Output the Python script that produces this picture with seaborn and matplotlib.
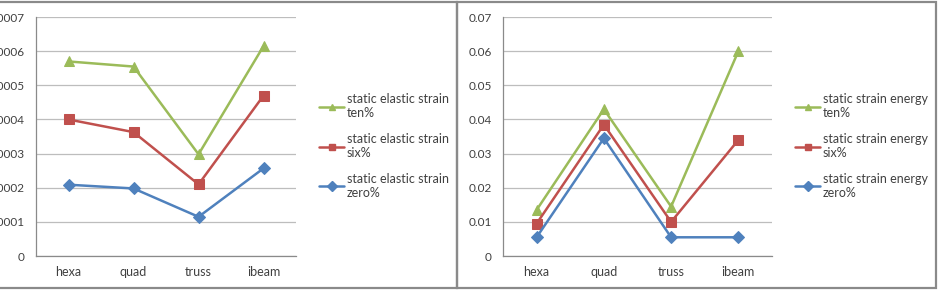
import numpy as np
import pandas as pd
import seaborn as sns
import matplotlib.pyplot as plt
from matplotlib.patches import Rectangle
from matplotlib.lines import Line2D

# categories and series
shapes = ["hexa", "quad", "truss", "ibeam"]

elastic_ten = [0.000570, 0.000555, 0.000298, 0.000615]
elastic_six = [0.000400, 0.000363, 0.000210, 0.000470]
elastic_zero = [0.000209, 0.000198, 0.000115, 0.000257]

energy_ten = [0.0135, 0.0430, 0.0145, 0.0600]
energy_six = [0.0095, 0.0385, 0.0100, 0.0340]
energy_zero = [0.0055, 0.0345, 0.0055, 0.0055]

levels = ["ten%", "six%", "zero%"]
colors = {"ten%": "#9BBB59", "six%": "#C0504D", "zero%": "#4F81BD"}
markers = {"ten%": "^", "six%": "s", "zero%": "D"}
msizes = {"ten%": 7.5, "six%": 7, "zero%": 6}


def make_df(ten, six, zero):
    rows = []
    for lvl, vals in zip(levels, [ten, six, zero]):
        for s, v in zip(shapes, vals):
            rows.append({"shape": s, "value": v, "level": lvl})
    return pd.DataFrame(rows)


sns.set_style("white")
plt.rcParams['font.family'] = ['Lato', 'DejaVu Sans']

my_dpi = 100
fig = plt.figure(figsize=(941 / my_dpi, 294 / my_dpi), dpi=my_dpi)

# panel borders like the spreadsheet chart boxes
fig.patches.append(Rectangle((-0.01, 0.020), 0.4957, 0.973, transform=fig.transFigure,
                             fill=False, edgecolor="#8a8a8a", linewidth=1.6))
fig.patches.append(Rectangle((0.4857, 0.020), 0.5090, 0.973, transform=fig.transFigure,
                             fill=False, edgecolor="#8a8a8a", linewidth=1.6))

panels = [
    ([0.0383, 0.129, 0.2763, 0.813], make_df(elastic_ten, elastic_six, elastic_zero),
     0.0007, 0.0001, "{:.4f}", "static elastic strain", 0.334),
    ([0.5345, 0.129, 0.2859, 0.813], make_df(energy_ten, energy_six, energy_zero),
     0.07, 0.01, "{:.2f}", "static strain energy", 0.840),
]

for rect, df, ymax, step, fmt, name, legx in panels:
    ax = fig.add_axes(rect)
    for lvl in levels:
        sub = df[df["level"] == lvl]
        sns.lineplot(data=sub, x="shape", y="value", ax=ax, color=colors[lvl],
                     marker=markers[lvl], markersize=msizes[lvl], linewidth=1.8,
                     markeredgecolor=colors[lvl], sort=False, zorder=3)
    ax.set_xlim(-0.5, 3.5)
    ax.set_ylim(0, ymax)
    yt = np.arange(0, ymax + step / 2, step)
    ax.set_yticks(yt)
    ax.set_yticklabels(["0"] + [fmt.format(t) for t in yt[1:]])
    ax.set_xticks(range(4))
    ax.set_xticklabels(shapes)
    ax.set_xticks(np.arange(-0.5, 4, 1), minor=True)
    ax.tick_params(axis="x", which="major", length=0, pad=7, labelsize=9, labelcolor="#404040")
    ax.tick_params(axis="x", which="minor", length=4, color="#8a8a8a", direction="out")
    ax.tick_params(axis="y", length=4, color="#8a8a8a", direction="out", pad=4,
                   labelsize=8.5, labelcolor="#404040")
    ax.grid(axis="y", color="#bdbdbd", linewidth=0.9)
    ax.set_axisbelow(True)
    ax.set_xlabel("")
    ax.set_ylabel("")
    for side in ["top", "right"]:
        ax.spines[side].set_visible(False)
    for side in ["left", "bottom"]:
        ax.spines[side].set_color("#8a8a8a")
        ax.spines[side].set_linewidth(0.9)
    if ax.get_legend() is not None:
        ax.get_legend().remove()

    handles = [Line2D([0], [0], color=colors[l], marker=markers[l], markersize=5,
                      linewidth=1.8) for l in levels]
    labels = [name + "\n" + l for l in levels]
    fig.legend(handles, labels, loc="upper left", bbox_to_anchor=(legx, 0.70),
               frameon=False, fontsize=9, handlelength=2.0, handletextpad=0.2,
               labelspacing=1.1, labelcolor="#404040", borderaxespad=0)

plt.savefig("out.png", dpi=my_dpi)
